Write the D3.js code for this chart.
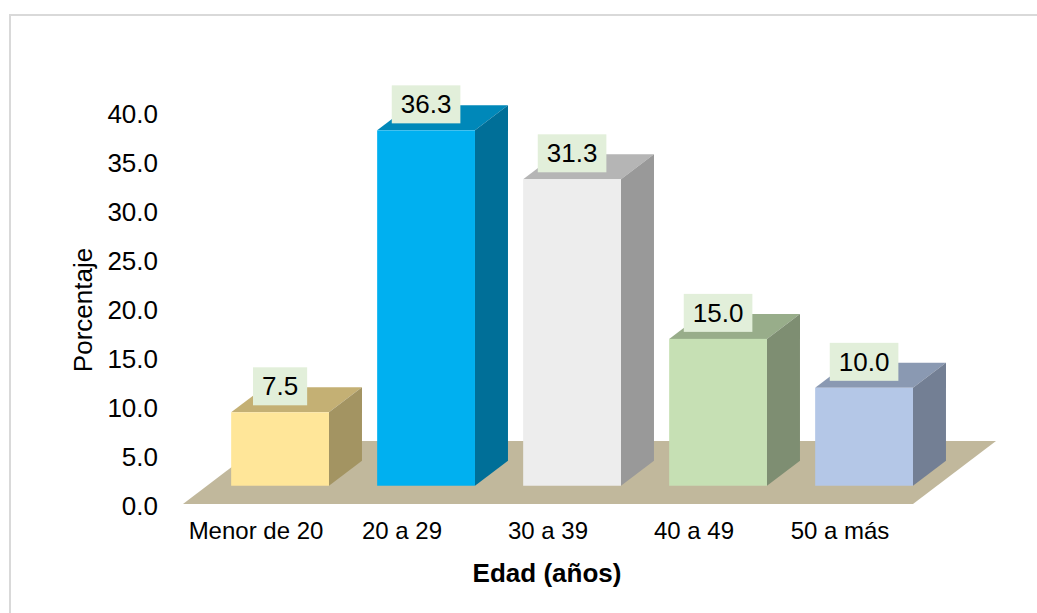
<!DOCTYPE html>
<html>
<head>
<meta charset="utf-8">
<script src="https://cdn.jsdelivr.net/npm/d3@7/dist/d3.min.js"></script>
<style>
  html, body { margin: 0; padding: 0; background: #ffffff; }
  svg { display: block; }
  text { font-family: "Liberation Sans", Arial, sans-serif; fill: #000; }
</style>
</head>
<body>
<svg id="chart" width="1037" height="613"></svg>
<script>
// ---- data ----
const categories = ["Menor de 20", "20 a 29", "30 a 39", "40 a 49", "50 a más"];
const values = [7.5, 36.3, 31.3, 15.0, 10.0];
const yTicks = [0, 5, 10, 15, 20, 25, 30, 35, 40];
const yTitle = "Porcentaje";
const xTitle = "Edad (años)";

// ---- styles ----
const frontColors = ["#FFE699", "#00B0F0", "#EDEDED", "#C6E0B4", "#B4C7E7"];
const topColors   = ["#C4B074", "#0088B9", "#B5B5B5", "#98AD8A", "#8A99B2"];
const sideColors  = ["#A39462", "#006F98", "#999999", "#7E8E72", "#737F94"];
const floorColor = "#C1B89C";
const labelBoxColor = "#E2EFDA";

const svg = d3.select("#chart");

// chart border
svg.append("rect")
  .attr("x", 10).attr("y", 15)
  .attr("width", 1100).attr("height", 700)
  .attr("fill", "#fff")
  .attr("stroke", "#D9D9D9").attr("stroke-width", 2);

// scales
const y = d3.scaleLinear().domain([0, 40]).range([506, 114.4]);
const x = d3.scaleBand().domain(categories).range([183, 913])
  .paddingInner(0.33).paddingOuter(0.165);

// 3D geometry
const floorFront = 504, floorDX = 83, floorDY = -63;
const frontFrac = 0.29;
const shiftX = floorDX * frontFrac, shiftY = floorDY * frontFrac;
const depthX = 33, depthY = -25;
const barBase = floorFront + shiftY;

// floor
const floorPts = [
  [x.range()[0], floorFront],
  [x.range()[1], floorFront],
  [x.range()[1] + floorDX, floorFront + floorDY],
  [x.range()[0] + floorDX, floorFront + floorDY]
];
svg.append("polygon")
  .attr("points", floorPts.map(p => p.join(",")).join(" "))
  .attr("fill", floorColor);

// bars
const w = x.bandwidth();
const bars = svg.append("g");
categories.forEach((c, i) => {
  const h = y(0) - y(values[i]);
  const x0 = x(c) + shiftX, y0 = barBase;
  const topPts = [[x0, y0 - h], [x0 + w, y0 - h], [x0 + w + depthX, y0 - h + depthY], [x0 + depthX, y0 - h + depthY]];
  const sidePts = [[x0 + w, y0 - h], [x0 + w + depthX, y0 - h + depthY], [x0 + w + depthX, y0 + depthY], [x0 + w, y0]];
  bars.append("polygon").attr("points", topPts.map(p => p.join(",")).join(" ")).attr("fill", topColors[i]);
  bars.append("polygon").attr("points", sidePts.map(p => p.join(",")).join(" ")).attr("fill", sideColors[i]);
  bars.append("rect").attr("x", x0).attr("y", y0 - h).attr("width", w).attr("height", h).attr("fill", frontColors[i]);
});

// value labels
const labels = svg.append("g");
categories.forEach((c, i) => {
  const h = y(0) - y(values[i]);
  const cx = x(c) + shiftX + w / 2;
  const bottom = barBase - h - 7;
  const g = labels.append("g");
  const rect = g.append("rect").attr("fill", labelBoxColor);
  const t = g.append("text")
    .attr("x", cx).attr("y", bottom - 19).attr("dy", "0.35em")
    .attr("text-anchor", "middle")
    .style("font-size", "26px")
    .text(values[i].toFixed(1));
  const tw = t.node().getComputedTextLength();
  rect.attr("x", cx - tw / 2 - 9).attr("y", bottom - 38)
    .attr("width", tw + 18).attr("height", 38);
});

// y axis
const yAxis = d3.axisLeft(y).tickValues(yTicks).tickFormat(d3.format(".1f")).tickSize(0).tickPadding(0);
const ya = svg.append("g").attr("transform", "translate(158,0)").call(yAxis);
ya.select(".domain").remove();
ya.selectAll("text").style("font-size", "26px").style("font-family", "'Liberation Sans', Arial, sans-serif").attr("fill", "#000");

// x category labels
const xAxis = d3.axisBottom(x).tickSize(0).tickPadding(0);
const xa = svg.append("g").attr("transform", "translate(0,522)").call(xAxis);
xa.select(".domain").remove();
xa.selectAll("text").style("font-size", "24px").style("font-family", "'Liberation Sans', Arial, sans-serif").attr("fill", "#000");

// axis titles
svg.append("text")
  .attr("transform", "translate(92,310) rotate(-90)")
  .attr("text-anchor", "middle")
  .style("font-size", "26px")
  .text(yTitle);

svg.append("text")
  .attr("x", 547).attr("y", 582)
  .attr("text-anchor", "middle")
  .style("font-size", "26px").style("font-weight", "bold")
  .text(xTitle);
</script>
</body>
</html>
